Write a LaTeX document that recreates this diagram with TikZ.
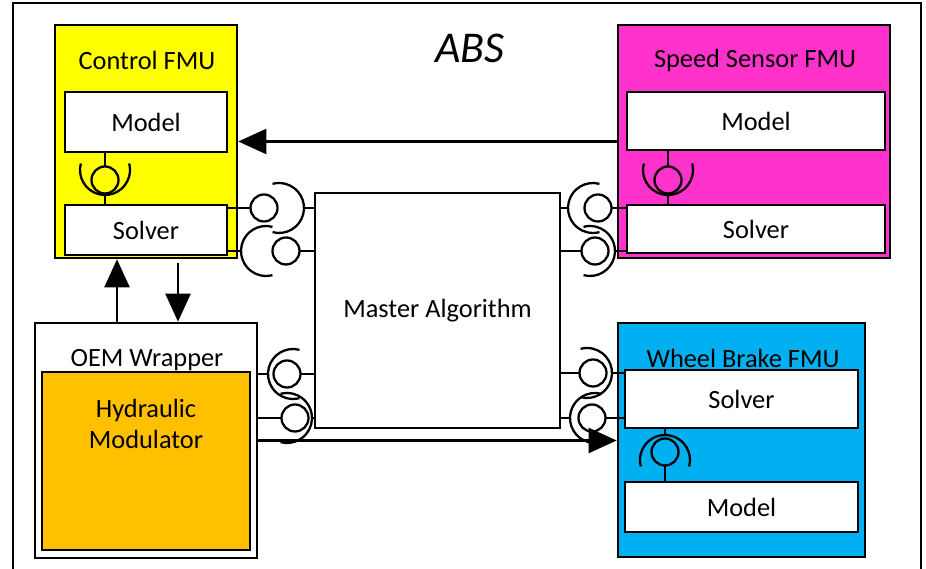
\documentclass[tikz,border=0pt]{standalone}
\usepackage{fontspec}
\setmainfont{Carlito}
\usepackage{tikz}
\usetikzlibrary{arrows.meta}
\usepackage{xcolor}
\definecolor{ctrlyellow}{HTML}{FFFF00}
\definecolor{sensorpink}{HTML}{FF33CC}
\definecolor{brakeblue}{HTML}{00B0F0}
\definecolor{hydorange}{HTML}{FFC000}

\newcommand{\ballsock}[4]{%
\begin{scope}[shift={#2},rotate=#3]
\draw[iface] (0,0) circle (0.27);
\draw[iface] ({-(#4)+0.5*cos(75)},{0.5*sin(75)}) arc[start angle=75,end angle=285,radius=0.5];
\coordinate (#1-b) at (0.27,0);
\coordinate (#1-s) at ({-(#4)-0.5},0);
\end{scope}}

\begin{document}
\begin{tikzpicture}[
  fmu/.style={draw, line width=1.5pt, rectangle, inner sep=0pt},
  part/.style={draw, fill=white, line width=1.5pt, rectangle, inner sep=0pt, font=\fontsize{15}{18}\selectfont},
  title/.style={inner sep=0pt, font=\fontsize{15}{18}\selectfont},
  wire/.style={line width=1.3pt},
  iface/.style={line width=1.3pt},
  bigarrow/.style={line width=1.3pt, -{Triangle[length=0.56cm, width=0.5cm]}}]
\useasboundingbox (0,0) rectangle (18.52,11.38);
\clip (0,0) rectangle (18.52,11.38);
\draw[line width=1.5pt] (0.26,-0.5) rectangle (18.42,11.32);
\node[font=\fontsize{25}{30}\selectfont\itshape] (abs) at (9.40,10.42) {ABS};

\node[fmu, fill=ctrlyellow, minimum width=3.64cm, minimum height=4.66cm] (ctrl) at (2.92,8.55) {};
\node[title] (ctrltitle) at (2.94,10.18) {Control FMU};
\node[part, minimum width=3.24cm, minimum height=1.20cm] (cmodel) at (2.92,8.94) {Model};
\node[part, minimum width=3.24cm, minimum height=1.00cm] (csolver) at (2.92,6.78) {Solver};

\node[fmu, fill=sensorpink, minimum width=5.44cm, minimum height=4.66cm] (speed) at (15.08,8.55) {};
\node[title] (speedtitle) at (15.10,10.18) {Speed Sensor FMU};
\node[part, minimum width=5.16cm, minimum height=1.16cm] (smodel) at (15.12,8.96) {Model};
\node[part, minimum width=5.16cm, minimum height=0.96cm] (ssolver) at (15.12,6.80) {Solver};

\node[part, minimum width=4.90cm, minimum height=4.70cm] (master) at (8.75,5.17) {Master Algorithm};

\node[fmu, fill=white, minimum width=4.44cm, minimum height=4.70cm] (oem) at (2.92,2.57) {};
\node[title] (oemtitle) at (2.94,4.18) {OEM Wrapper};
\node[fmu, fill=hydorange, minimum width=4.16cm, minimum height=3.56cm] (hyd) at (2.92,2.16) {};
\node[title, align=center] (hydtext) at (2.92,2.90) {Hydraulic\\Modulator};

\node[fmu, fill=brakeblue, minimum width=4.94cm, minimum height=4.68cm] (wheel) at (14.83,2.58) {};
\node[title] (wheeltitle) at (14.86,4.22) {Wheel Brake FMU};
\node[part, minimum width=4.66cm, minimum height=1.16cm] (wsolver) at (14.83,3.40) {Solver};
\node[part, minimum width=4.66cm, minimum height=1.00cm] (wmodel) at (14.83,1.24) {Model};

\ballsock{cv}{(2.10,7.78)}{90}{-0.2}
\draw[wire] (cv-b) -- (cv-b |- cmodel.south);
\draw[wire] (cv-s) -- (cv-s |- csolver.north);
\ballsock{sv}{(13.36,7.78)}{90}{-0.2}
\draw[wire] (sv-b) -- (sv-b |- smodel.south);
\draw[wire] (sv-s) -- (sv-s |- ssolver.north);
\ballsock{wv}{(13.30,2.34)}{270}{-0.16}
\draw[wire] (wv-b) -- (wv-b |- wmodel.north);
\draw[wire] (wv-s) -- (wv-s |- wsolver.south);

\ballsock{cm1}{(5.28,7.22)}{180}{0.3}
\draw[wire] (cm1-b) -- (cm1-b -| csolver.east);
\draw[wire] (cm1-s) -- (cm1-s -| master.west);
\ballsock{cm2}{(5.72,6.36)}{0}{0.4}
\draw[wire] (cm2-b) -- (cm2-b -| master.west);
\draw[wire] (cm2-s) -- (cm2-s -| csolver.east);
\ballsock{sm1}{(11.96,7.22)}{0}{0.1}
\draw[wire] (sm1-b) -- (sm1-b -| ssolver.west);
\draw[wire] (sm1-s) -- (sm1-s -| master.east);
\ballsock{sm2}{(11.90,6.36)}{180}{-0.1}
\draw[wire] (sm2-b) -- (sm2-b -| master.east);
\draw[wire] (sm2-s) -- (sm2-s -| ssolver.west);

\ballsock{om1}{(5.74,3.90)}{0}{-0.12}
\draw[wire] (om1-b) -- (om1-b -| master.west);
\draw[wire] (om1-s) -- (om1-s -| oem.east);
\ballsock{om2}{(5.90,3.02)}{180}{-0.16}
\draw[wire] (om2-b) -- (om2-b -| oem.east);
\draw[wire] (om2-s) -- (om2-s -| master.west);
\ballsock{wm1}{(11.86,3.92)}{180}{-0.12}
\draw[wire] (wm1-b) -- (wm1-b -| master.east);
\draw[wire] (wm1-s) -- (wm1-s -| wsolver.west);
\ballsock{wm2}{(11.84,3.02)}{0}{-0.06}
\draw[wire] (wm2-b) -- (wm2-b -| wsolver.west);
\draw[wire] (wm2-s) -- (wm2-s -| master.east);

\draw[bigarrow] (speed.west) -- (speed.west -| ctrl.east);
\draw[bigarrow] ([xshift=-0.58cm]oem.north) -- ([xshift=-0.58cm]oem.north |- ctrl.south);
\draw[bigarrow] ([xshift=0.64cm,yshift=-0.08cm]ctrl.south) -- ([xshift=0.64cm]ctrl.south |- oem.north);
\draw[bigarrow] (oem.east) -- (oem.east -| wheel.west);
\end{tikzpicture}
\end{document}
